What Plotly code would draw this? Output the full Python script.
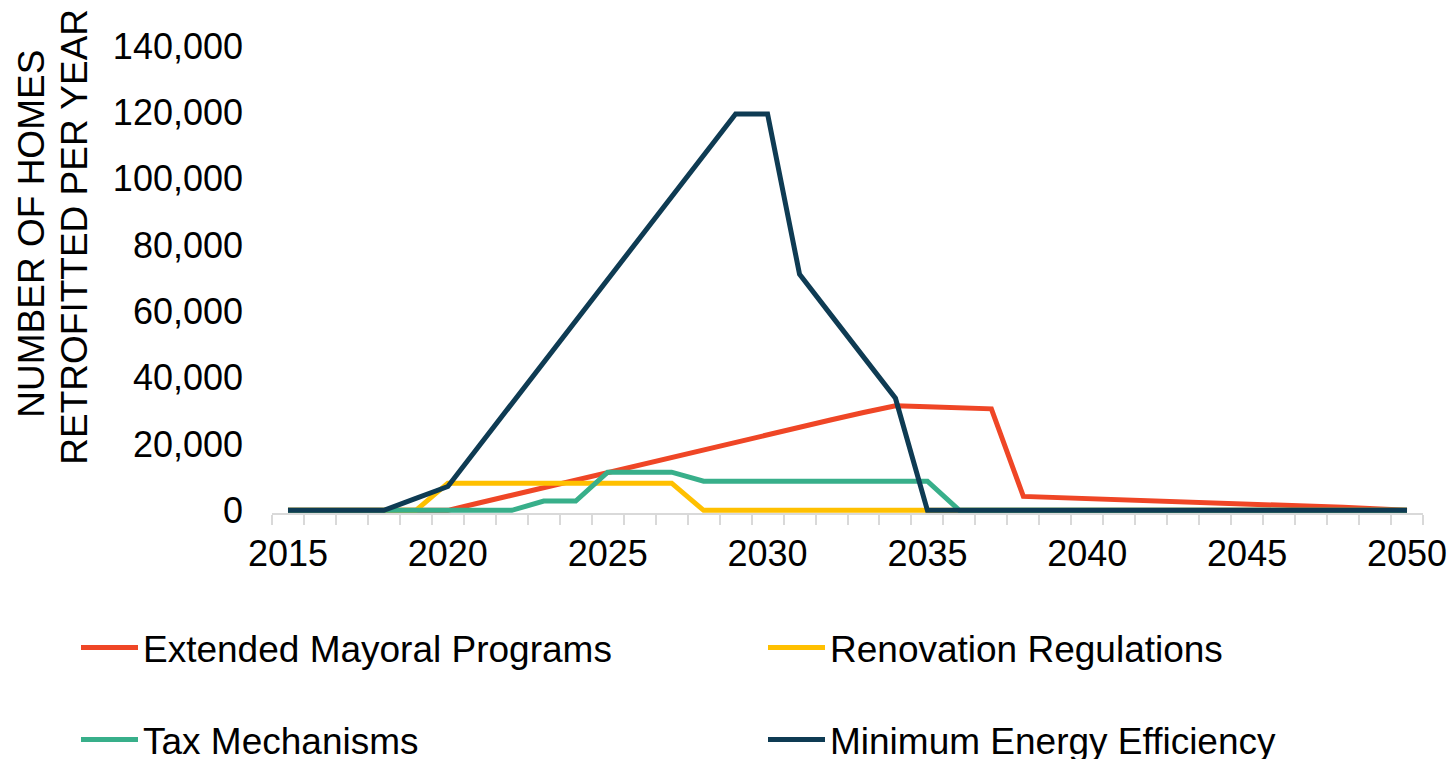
import plotly.graph_objects as go

years = list(range(2015, 2051))

extended_mayoral = [0, 0, 0, 0, 0, 0, 2300, 4600, 6900, 9100, 11400, 13700, 16000, 18200,
                    20500, 22800, 25000, 27300, 29500, 31500, 31200, 30900, 30600, 4200,
                    3900, 3600, 3300, 3000, 2700, 2400, 2100, 1700, 1300, 900, 450, 0]
renovation_regs = [0, 0, 0, 0, 0, 8200, 8200, 8200, 8200, 8200, 8200, 8200, 8200, 0,
                   0, 0, 0, 0, 0, 0, 0, 0, 0, 0, 0, 0, 0, 0, 0, 0, 0, 0, 0, 0, 0, 0]
tax_mechanisms = [0, 0, 0, 0, 0, 0, 0, 0, 2800, 2800, 11500, 11500, 11500, 8800,
                  8800, 8800, 8800, 8800, 8800, 8800, 8800, 0, 0, 0, 0, 0, 0, 0, 0, 0, 0, 0, 0, 0, 0, 0]
min_energy_eff = [0, 0, 0, 0, 3600, 7200, 19700, 32100, 44600, 57100, 69600, 82000, 94500, 107000,
                  119500, 119500, 71200, 58700, 46200, 33800, 0, 0, 0, 0, 0, 0, 0, 0, 0, 0, 0, 0, 0, 0, 0, 0]

series = [
    ("Extended Mayoral Programs", extended_mayoral, "#EF4626", "legend"),
    ("Renovation Regulations", renovation_regs, "#FFC000", "legend2"),
    ("Tax Mechanisms", tax_mechanisms, "#38AF8A", "legend3"),
    ("Minimum Energy Efficiency", min_energy_eff, "#0E3B53", "legend4"),
]

x_tick_vals = [2015, 2020, 2025, 2030, 2035, 2040, 2045, 2050]
y_tick_vals = [0, 20000, 40000, 60000, 80000, 100000, 120000, 140000]

FONT = "Liberation Sans, Arial, sans-serif"

fig = go.Figure()
for name, vals, color, lg in series:
    fig.add_trace(go.Scatter(x=years, y=vals, mode="lines", name=name,
                             line=dict(color=color, width=5), legend=lg))

leg_common = dict(orientation="h", xref="container", yref="container",
                  xanchor="left", yanchor="middle", itemwidth=57,
                  font=dict(size=37, family=FONT), bgcolor="rgba(0,0,0,0)")

fig.update_layout(
    width=1456, height=759,
    margin=dict(l=272, r=33, t=46, b=246, autoexpand=False),
    paper_bgcolor="white", plot_bgcolor="white",
    font=dict(family=FONT, size=36, color="black"),
    showlegend=True,
    legend=dict(x=76 / 1456, y=1 - 648 / 759, **leg_common),
    legend2=dict(x=763 / 1456, y=1 - 648 / 759, **leg_common),
    legend3=dict(x=76 / 1456, y=1 - 740 / 759, **leg_common),
    legend4=dict(x=763 / 1456, y=1 - 740 / 759, **leg_common),
    annotations=[
        dict(text="NUMBER OF HOMES", textangle=-90, xref="paper", yref="paper",
             x=(31.5 - 272) / 1151, y=(512.65 - 234) / 466.65,
             xanchor="center", yanchor="middle", showarrow=False,
             font=dict(size=37, family=FONT, color="black")),
        dict(text="RETROFITTED PER YEAR", textangle=-90, xref="paper", yref="paper",
             x=(75 - 272) / 1151, y=(512.65 - 236.5) / 466.65,
             xanchor="center", yanchor="middle", showarrow=False,
             font=dict(size=37, family=FONT, color="black")),
    ],
)

fig.update_xaxes(range=[2014.5, 2050.5], tickvals=x_tick_vals, ticks="",
                 showline=True, linecolor="#D9D9D9", linewidth=2,
                 showgrid=False, zeroline=False, automargin=False,
                 minor=dict(tick0=2014.5, dtick=1, ticks="outside", ticklen=10,
                            tickcolor="#D9D9D9", tickwidth=2, showgrid=False),
                 tickfont=dict(size=36, family=FONT), ticklabelstandoff=8)
fig.update_yaxes(range=[-800, 140000], tickvals=y_tick_vals, tickformat=",",
                 showline=False, showgrid=False, zeroline=False, ticks="", automargin=False,
                 tickfont=dict(size=36, family=FONT), ticklabelstandoff=28)

fig.write_html("out.html", config={"displayModeBar": False},
               post_script="document.body.style.margin='0';")
